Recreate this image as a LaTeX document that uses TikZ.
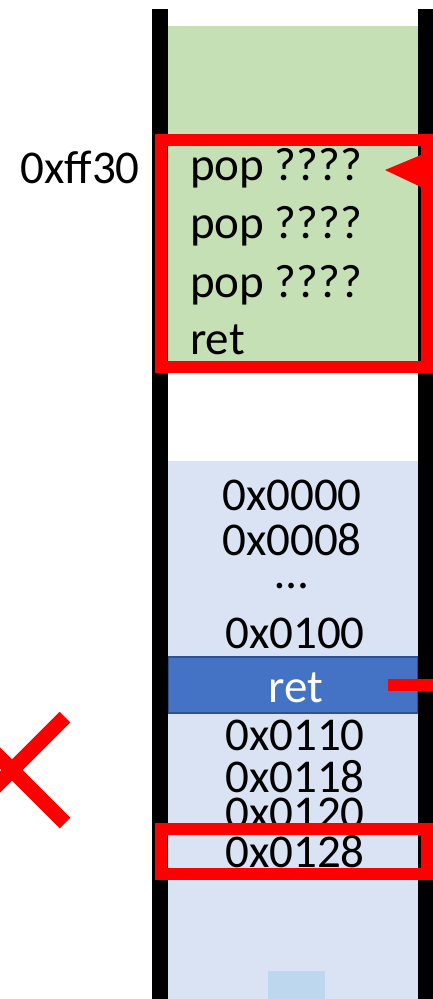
\documentclass[tikz,border=0pt]{standalone}
\usepackage{fontspec}
\setmainfont{Carlito}
\usetikzlibrary{calc}
\definecolor{stackgreen}{HTML}{C5E0B4}
\definecolor{stackblue}{HTML}{DAE3F3}
\definecolor{retblue}{HTML}{4472C4}
\definecolor{retborder}{HTML}{2F528F}
\definecolor{smallblue}{HTML}{BDD7EE}
\definecolor{alertred}{HTML}{FF0000}
\tikzset{
  txt/.style={font=\fontsize{47}{47}\selectfont, inner sep=0pt, text=black},
  codetxt/.style={txt, anchor=base west},
  addrtxt/.style={txt, anchor=base},
  redframe/.style={draw=alertred, line width=12pt},
  wall/.style={fill=black},
}
\begin{document}
\begin{tikzpicture}[x=1pt,y=-1pt]
\useasboundingbox (0,0) rectangle (433,999);
% regions
\fill[stackgreen] (168,26) rectangle (418,373);
\fill[stackblue] (168,461) rectangle (418,999);
\fill[smallblue] (268,971) rectangle (325,999);
\draw[fill=retblue, draw=retborder, line width=1.5pt] (168,657) rectangle (418,713);
% walls
\fill[wall] (152,9) rectangle (168,999);
\fill[wall] (418,9) rectangle (433,999);
% code text
\node[txt, anchor=base east] (addrff) at (140,183) {0xff30};
\node[codetxt] (pop1) at (190,180) {pop ????};
\node[codetxt] (pop2) at (190,238) {pop ????};
\node[codetxt] (pop3) at (190,297) {pop ????};
\node[codetxt] (ret1) at (190,354) {ret};
% stack text
\node[addrtxt] (a0000) at (292,510) {0x0000};
\node[addrtxt] (a0008) at (292,555) {0x0008};
\node[addrtxt] (dots) at (292,588) {…};
\node[addrtxt] (a0100) at (295,648) {0x0100};
\node[addrtxt, text=white] (ret2) at (296,702) {ret};
\node[addrtxt] (a0110) at (295,750) {0x0110};
\node[addrtxt] (a0118) at (295,792) {0x0118};
\node[addrtxt] (a0120) at (295,828) {0x0120};
\node[addrtxt] (a0128) at (295,867) {0x0128};
% red frames
\draw[redframe] (161,140) rectangle (427,367);
\draw[redframe] (161,829) rectangle (427,874);
% pointer triangle
\coordinate (tip) at (385,170);
\fill[alertred] (tip) -- (421,155) -- (421,187) -- cycle;
% red line from ret
\coordinate (retL) at (388,685);
\coordinate (retR) at (433,685);
\draw[alertred, line width=12pt] (retL) -- (retR);
% red cross
\coordinate (xc) at (12,770);
\draw[alertred, line width=15pt] ($(xc)+(-53,-53)$) -- ($(xc)+(53,53)$);
\draw[alertred, line width=15pt] ($(xc)+(-53,53)$) -- ($(xc)+(53,-53)$);
\end{tikzpicture}
\end{document}
